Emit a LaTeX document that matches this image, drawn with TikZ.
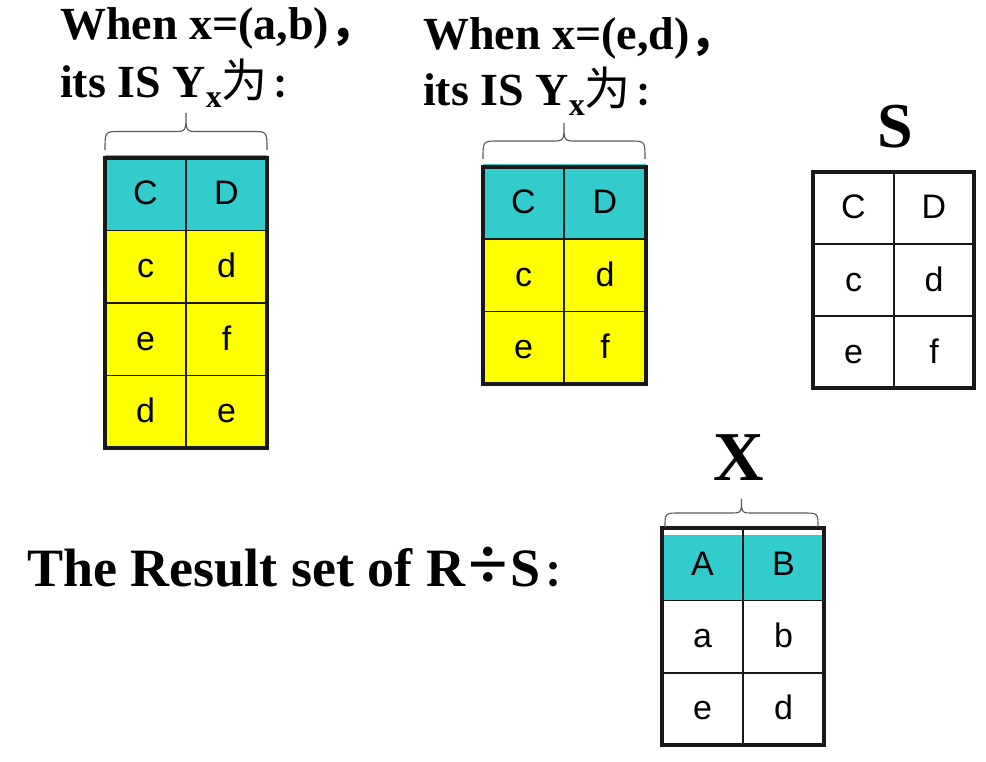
\documentclass[tikz,border=0pt]{standalone}
\usepackage{fontspec}
\setmainfont{Liberation Serif}
\setsansfont{Liberation Sans}
\newfontfamily\cjk{Noto Sans CJK SC}
\usetikzlibrary{positioning}
\definecolor{headcyan}{RGB}{51,204,204}
\definecolor{rowyellow}{RGB}{255,255,0}

\begin{document}
\begin{tikzpicture}[x=1pt,y=-1pt,
  heading/.style={anchor=base west,inner sep=0pt,font=\fontsize{46}{46}\selectfont\bfseries},
  big/.style={anchor=base,inner sep=0pt,font=\fontsize{#1}{#1}\selectfont\bfseries},
  cell/.style={anchor=base,inner sep=0pt,font=\fontsize{34}{34}\selectfont\sffamily},
  tabframe/.style={draw=black!90,line width=3.2pt},
  tabrule/.style={draw=black!90,line width=1.6pt},
  curly/.style={draw=black!65,line width=1.1pt}]
 \useasboundingbox (0,0) rectangle (986,762);

 % headings
 \node[heading] (whenab) at (60,40) {When x=(a,b){\cjk ，}};
 \node[heading] (itsab) at (60,98) {its IS Y\raisebox{-10pt}{\fontsize{32}{32}\selectfont x}{\cjk\mdseries 为}\hspace{5pt}{\cjk\fontsize{32}{32}\selectfont ：}};
 \node[heading] (whened) at (423,50) {When x=(e,d){\cjk ，}};
 \node[heading] (itsed) at (423,106) {its IS Y\raisebox{-10pt}{\fontsize{32}{32}\selectfont x}{\cjk\mdseries 为}\hspace{5pt}{\cjk\fontsize{32}{32}\selectfont ：}};
 \node[heading,font=\fontsize{54}{54}\selectfont\bfseries] (result) at (27,586) {The Result set of R\hspace{3pt}\raisebox{-2pt}{\fontsize{72}{72}\selectfont ÷}\hspace{3pt}S\hspace{4pt}{\cjk\fontsize{36}{36}\selectfont ：}};
 \node[big=64] (slabel) at (895,148) {S};
 \node[big=70] (xlabel) at (739,480) {X};

 % Y_x for x=(a,b)
 \fill[headcyan] (105,155) rectangle (267,231);
 \fill[rowyellow] (105,231) rectangle (267,448);
 \foreach \y in {230.5,303,375.5} \draw[tabrule] (105,\y) -- (267,\y);
 \draw[tabrule] (186,158) -- (186,448);
 \draw[tabframe] (105,158) rectangle (267,448);
 \foreach \r/\u/\v in {0/C/D,1/c/d,2/e/f,3/d/e} {
  \node[cell] (yab-\r-1) at (145.5,{205+72.5*\r}) {\u};
  \node[cell] (yab-\r-2) at (226.5,{205+72.5*\r}) {\v};
 }

 % Y_x for x=(e,d)
 \fill[headcyan] (483,164) rectangle (646,239.3);
 \fill[rowyellow] (483,239.3) rectangle (646,384);
 \foreach \y in {239.3,311.6} \draw[tabrule] (483,\y) -- (646,\y);
 \draw[tabrule] (564,167) -- (564,384);
 \draw[tabframe] (483,167) rectangle (646,384);
 \foreach \r/\u/\v in {0/C/D,1/c/d,2/e/f} {
  \node[cell] (yed-\r-1) at (523.5,{214+72.3*\r}) {\u};
  \node[cell] (yed-\r-2) at (605,{214+72.3*\r}) {\v};
 }

 % S
 \foreach \y in {244,316} \draw[tabrule] (813,\y) -- (974,\y);
 \draw[tabrule] (894,172) -- (894,388);
 \draw[tabframe] (813,172) rectangle (974,388);
 \foreach \r/\u/\v in {0/C/D,1/c/d,2/e/f} {
  \node[cell] (s-\r-1) at (853.5,{219+72*\r}) {\u};
  \node[cell] (s-\r-2) at (934,{219+72*\r}) {\v};
 }

 % X
 \fill[headcyan] (662,535) rectangle (824,600.5);
 \foreach \y in {600.5,672.8} \draw[tabrule] (662,\y) -- (824,\y);
 \draw[tabrule] (743,528) -- (743,745);
 \draw[tabframe] (662,528) rectangle (824,745);
 \foreach \r/\u/\v in {0/A/B,1/a/b,2/e/d} {
  \node[cell] (res-\r-1) at (702.5,{575+72.3*\r}) {\u};
  \node[cell] (res-\r-2) at (783.5,{575+72.3*\r}) {\v};
 }

 % braces
 \foreach \a/\b/\y/\h in {105/267/150/37,483/645/159/36,665/818/527/28}
  \draw[curly] (\a,\y) .. controls (\a,\y-\h/2) .. (\a+15,\y-\h/2)
   -- ({(\a+\b)/2-12},\y-\h/2) .. controls ({(\a+\b)/2},\y-\h/2) .. ({(\a+\b)/2},\y-\h)
   .. controls ({(\a+\b)/2},\y-\h/2) .. ({(\a+\b)/2+12},\y-\h/2)
   -- (\b-15,\y-\h/2) .. controls (\b,\y-\h/2) .. (\b,\y);
\end{tikzpicture}
\end{document}
